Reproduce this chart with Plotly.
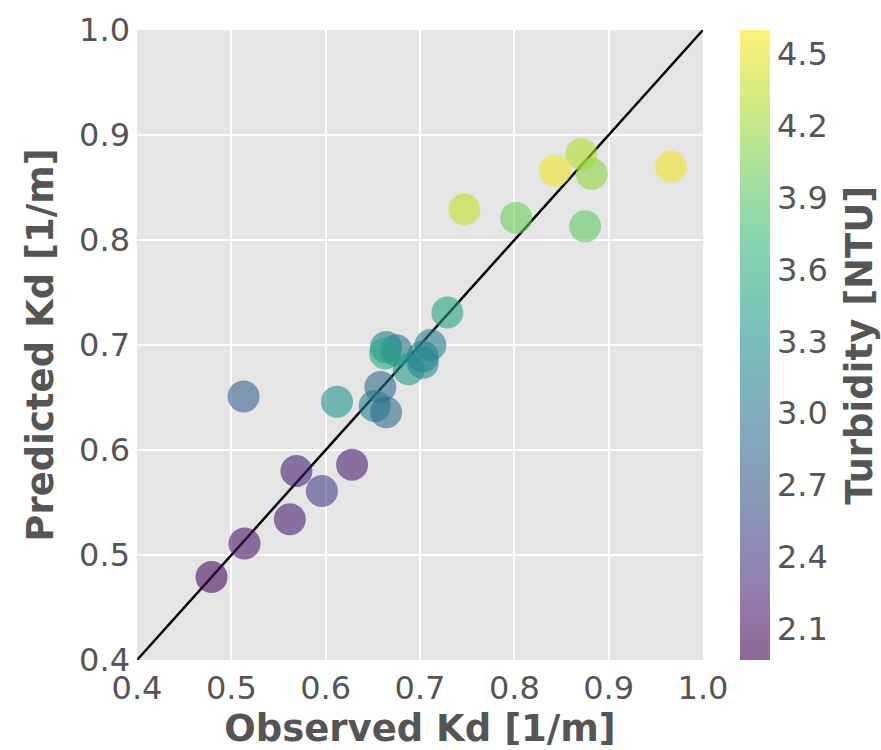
import plotly.graph_objects as go

# Observed vs predicted light attenuation coefficient, coloured by turbidity
observed_kd = [0.966, 0.871, 0.882, 0.843, 0.875, 0.802, 0.747, 0.729,
               0.513, 0.612, 0.658, 0.652, 0.664, 0.569, 0.596, 0.628,
               0.562, 0.514, 0.479, 0.664, 0.675, 0.663, 0.711, 0.688,
               0.703, 0.703]
predicted_kd = [0.870, 0.882, 0.863, 0.866, 0.813, 0.821, 0.829, 0.731,
                0.651, 0.646, 0.660, 0.642, 0.636, 0.580, 0.561, 0.586,
                0.534, 0.511, 0.479, 0.698, 0.695, 0.692, 0.700, 0.677,
                0.683, 0.689]
turbidity = [4.55, 4.30, 4.15, 4.55, 3.95, 4.00, 4.35, 3.50,
             2.80, 3.30, 2.90, 3.10, 2.90, 2.20, 2.45, 2.20,
             2.20, 2.15, 2.05, 3.10, 3.00, 3.55, 3.10, 3.40,
             3.20, 3.15]

axis_ticks = [0.4, 0.5, 0.6, 0.7, 0.8, 0.9, 1.0]
cbar_ticks = [2.1, 2.4, 2.7, 3.0, 3.3, 3.6, 3.9, 4.2, 4.5]

# Viridis with alpha so both markers and colorbar appear translucent
viridis = ["#440154", "#482878", "#3e4989", "#31688e", "#26828e",
           "#1f9e89", "#35b779", "#6ece58", "#b5de2b", "#fde725"]
alpha = 0.6


def with_alpha(hex_color, a):
    r, g, b = (int(hex_color[i:i + 2], 16) for i in (1, 3, 5))
    return f"rgba({r},{g},{b},{a})"


colorscale = [[i / (len(viridis) - 1), with_alpha(c, alpha)]
              for i, c in enumerate(viridis)]

grey = "#555555"
tick_font = dict(family="DejaVu Sans", size=32, color=grey)
title_font = dict(family="DejaVu Sans", size=37, color=grey, weight="bold")

fig = go.Figure()

# 1:1 reference line
fig.add_trace(go.Scatter(
    x=[axis_ticks[0], axis_ticks[-1]], y=[axis_ticks[0], axis_ticks[-1]],
    mode="lines", line=dict(color="black", width=2.5),
    showlegend=False, hoverinfo="skip"))

fig.add_trace(go.Scatter(
    x=observed_kd, y=predicted_kd, mode="markers",
    marker=dict(
        size=32, color=turbidity, colorscale=colorscale,
        cmin=1.97, cmax=4.6, opacity=1,
        line=dict(width=0),
        colorbar=dict(
            x=1.066, xanchor="left", xpad=0, y=0.5, yanchor="middle",
            len=1, lenmode="fraction", thickness=30, ypad=0,
            outlinewidth=0, ticks="", ticklen=0, tickvals=cbar_ticks,
            ticktext=[f"{v:.1f}" for v in cbar_ticks],
            tickfont=tick_font,
        )),
    showlegend=False))

# Colorbar caption, placed to the right of the tick labels
fig.add_annotation(
    text="Turbidity [NTU]", textangle=-90, font=title_font,
    xref="paper", yref="paper", x=1.275, y=0.5,
    xanchor="center", yanchor="middle", showarrow=False)

fig.update_layout(
    width=881, height=750,
    margin=dict(l=137, r=178, t=30, b=90),
    paper_bgcolor="white", plot_bgcolor="#e5e5e5",
    xaxis=dict(range=[0.4, 1.0], tickvals=axis_ticks,
               ticktext=[f"{v:.1f}" for v in axis_ticks],
               showgrid=True, gridcolor="white", gridwidth=1.5,
               zeroline=False, showline=False, ticks="",
               ticklabelstandoff=6, tickfont=tick_font,
               title=dict(text="Observed Kd [1/m]", font=title_font, standoff=2)),
    yaxis=dict(range=[0.4, 1.0], tickvals=axis_ticks,
               ticktext=[f"{v:.1f}" for v in axis_ticks],
               showgrid=True, gridcolor="white", gridwidth=1.5,
               zeroline=False, showline=False, ticks="",
               ticklabelstandoff=6, tickfont=tick_font,
               title=dict(text="Predicted Kd [1/m]", font=title_font, standoff=14)),
)

fig.write_html("out.html")
